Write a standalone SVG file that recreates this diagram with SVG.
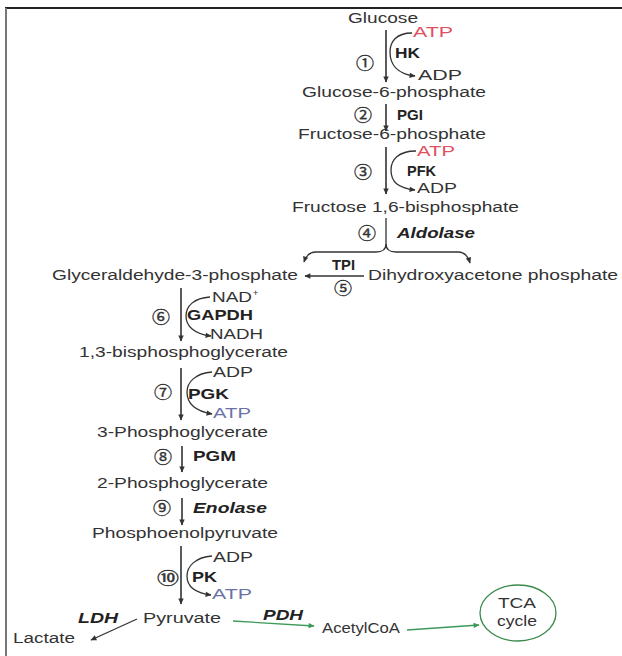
<svg xmlns="http://www.w3.org/2000/svg" width="622" height="656" viewBox="0 0 622 656">
<defs>
<style>
.t{font-family:"Liberation Sans",Arial,sans-serif;font-size:14px;fill:#333}
.b{font-weight:bold;fill:#222}
.bi{font-weight:bold;font-style:italic;fill:#222}
.red{fill:#e0505f}
.blu{fill:#6b73a6}
.num{font-family:"Noto Sans CJK JP","DejaVu Sans",sans-serif;font-size:16px;fill:#333;stroke:#333;stroke-width:0.35}
.ln{stroke:#333;stroke-width:1.3;fill:none}
.mn{stroke:#333;stroke-width:1.6;fill:none}
.gr{stroke:#3d9a5a;stroke-width:1.3;fill:none}
</style>
<marker id="ah" viewBox="0 0 10 10" refX="9" refY="5" markerWidth="7" markerHeight="6" orient="auto" markerUnits="userSpaceOnUse"><path d="M0,0.5 L10,5 L0,9.5 z" fill="#333"/></marker>
<marker id="ahg" viewBox="0 0 10 10" refX="9" refY="5" markerWidth="7" markerHeight="6" orient="auto" markerUnits="userSpaceOnUse"><path d="M0,0.5 L10,5 L0,9.5 z" fill="#3d9a5a"/></marker>
</defs>
<rect width="622" height="656" fill="#fff"/>
<g id="frame">
<path d="M5,8 H622" stroke="#222" stroke-width="2"/>
<path d="M6,8 V656" stroke="#777" stroke-width="2"/>
</g>
<g id="connectors">
<path class="mn" d="M386,30 V82" marker-end="url(#ah)"/>
<path class="ln" d="M412,33 C396,33 390,42 390,52 C390,64 397,74 415,76" marker-end="url(#ah)"/>
<path class="mn" d="M386,104 V131" marker-end="url(#ah)"/>
<path class="mn" d="M386,147 V194" marker-end="url(#ah)"/>
<path class="ln" d="M416,151 C398,151 391,160 391,170 C391,182 398,188 415,190" marker-end="url(#ah)"/>
<path class="ln" d="M386,218 V244 C386,250 382,252 376,252 L316,252 C309,252 306,256 304,262" marker-end="url(#ah)"/>
<path class="ln" d="M386,244 C386,250 390,252 396,252 L458,252 C465,252 468,256 470,263" marker-end="url(#ah)"/>
<path class="ln" d="M364,276 H305" marker-end="url(#ah)"/>
<path class="mn" d="M181,288 V341" marker-end="url(#ah)"/>
<path class="ln" d="M210,297 C194,298 186,306 186,316 C186,326 194,334 211,336" marker-end="url(#ah)"/>
<path class="mn" d="M181,368 V420" marker-end="url(#ah)"/>
<path class="ln" d="M212,372 C196,373 187,382 187,392 C187,403 195,411 212,414" marker-end="url(#ah)"/>
<path class="mn" d="M182,446 V472" marker-end="url(#ah)"/>
<path class="mn" d="M182,498 V525" marker-end="url(#ah)"/>
<path class="mn" d="M181,546 V604" marker-end="url(#ah)"/>
<path class="ln" d="M212,556 C196,557 187,566 187,576 C187,586 195,593 211,595" marker-end="url(#ah)"/>
<path class="ln" d="M137,619 L91,640" marker-end="url(#ah)"/>
<path class="gr" d="M233,621 L314,626" marker-end="url(#ahg)"/>
<path class="gr" d="M407,630 L479,625" marker-end="url(#ahg)"/>
</g>
<g id="glucose"><text class="t" x="348" y="23" textLength="70" lengthAdjust="spacingAndGlyphs">Glucose</text></g>
<g id="step1">
<text class="t red" x="413" y="37" textLength="40" lengthAdjust="spacingAndGlyphs">ATP</text>
<text class="t b" x="395" y="58" textLength="25" lengthAdjust="spacingAndGlyphs">HK</text>
<text class="num" x="356" y="69" textLength="18" lengthAdjust="spacingAndGlyphs">①</text>
<text class="t" x="418" y="80" textLength="44" lengthAdjust="spacingAndGlyphs">ADP</text>
</g>
<g id="g6p"><text class="t" x="302" y="97" textLength="184" lengthAdjust="spacingAndGlyphs">Glucose-6-phosphate</text></g>
<g id="step2">
<text class="num" x="354" y="121" textLength="18" lengthAdjust="spacingAndGlyphs">②</text>
<text class="t b" x="397" y="120" textLength="26" lengthAdjust="spacingAndGlyphs">PGI</text>
</g>
<g id="f6p"><text class="t" x="298" y="139" textLength="188" lengthAdjust="spacingAndGlyphs">Fructose-6-phosphate</text></g>
<g id="step3">
<text class="t red" x="417" y="156" textLength="38" lengthAdjust="spacingAndGlyphs">ATP</text>
<text class="t b" x="407" y="176" textLength="29" lengthAdjust="spacingAndGlyphs">PFK</text>
<text class="num" x="354" y="178" textLength="18" lengthAdjust="spacingAndGlyphs">③</text>
<text class="t" x="417" y="193" textLength="40" lengthAdjust="spacingAndGlyphs">ADP</text>
</g>
<g id="f16bp"><text class="t" x="292" y="212" textLength="227" lengthAdjust="spacingAndGlyphs">Fructose 1,6-bisphosphate</text></g>
<g id="step4">
<text class="num" x="358" y="239" textLength="18" lengthAdjust="spacingAndGlyphs">④</text>
<text class="t bi" x="397" y="238" textLength="78" lengthAdjust="spacingAndGlyphs">Aldolase</text>
</g>
<g id="g3p"><text class="t" x="52" y="280" textLength="246" lengthAdjust="spacingAndGlyphs">Glyceraldehyde-3-phosphate</text></g>
<g id="step5">
<text class="t b" x="332" y="270" textLength="23" lengthAdjust="spacingAndGlyphs">TPI</text>
<text class="num" x="334" y="294" textLength="18" lengthAdjust="spacingAndGlyphs">⑤</text>
</g>
<g id="dhap"><text class="t" x="368" y="280" textLength="250" lengthAdjust="spacingAndGlyphs">Dihydroxyacetone phosphate</text></g>
<g id="step6">
<text class="t" x="212" y="302" textLength="40" lengthAdjust="spacingAndGlyphs">NAD</text>
<text class="t" x="253" y="296" style="font-size:9px">+</text>
<text class="num" x="152" y="323" textLength="18" lengthAdjust="spacingAndGlyphs">⑥</text>
<text class="t b" x="187" y="320" textLength="66" lengthAdjust="spacingAndGlyphs">GAPDH</text>
<text class="t" x="210" y="339" textLength="53" lengthAdjust="spacingAndGlyphs">NADH</text>
</g>
<g id="bpg"><text class="t" x="79" y="357" textLength="209" lengthAdjust="spacingAndGlyphs">1,3-bisphosphoglycerate</text></g>
<g id="step7">
<text class="t" x="213" y="377" textLength="40" lengthAdjust="spacingAndGlyphs">ADP</text>
<text class="num" x="154" y="398" textLength="18" lengthAdjust="spacingAndGlyphs">⑦</text>
<text class="t b" x="188" y="399" textLength="41" lengthAdjust="spacingAndGlyphs">PGK</text>
<text class="t blu" x="213" y="418" textLength="38" lengthAdjust="spacingAndGlyphs">ATP</text>
</g>
<g id="pg3"><text class="t" x="97" y="437" textLength="171" lengthAdjust="spacingAndGlyphs">3-Phosphoglycerate</text></g>
<g id="step8">
<text class="num" x="154" y="463" textLength="18" lengthAdjust="spacingAndGlyphs">⑧</text>
<text class="t b" x="193" y="461" textLength="43" lengthAdjust="spacingAndGlyphs">PGM</text>
</g>
<g id="pg2"><text class="t" x="97" y="488" textLength="171" lengthAdjust="spacingAndGlyphs">2-Phosphoglycerate</text></g>
<g id="step9">
<text class="num" x="153" y="514" textLength="18" lengthAdjust="spacingAndGlyphs">⑨</text>
<text class="t bi" x="193" y="513" textLength="74" lengthAdjust="spacingAndGlyphs">Enolase</text>
</g>
<g id="pep"><text class="t" x="92" y="538" textLength="186" lengthAdjust="spacingAndGlyphs">Phosphoenolpyruvate</text></g>
<g id="step10">
<text class="t" x="213" y="562" textLength="40" lengthAdjust="spacingAndGlyphs">ADP</text>
<text class="num" x="157" y="584" textLength="22" lengthAdjust="spacingAndGlyphs">⑩</text>
<text class="t b" x="192" y="582" textLength="25" lengthAdjust="spacingAndGlyphs">PK</text>
<text class="t blu" x="212" y="599" textLength="40" lengthAdjust="spacingAndGlyphs">ATP</text>
</g>
<g id="pyruvate"><text class="t" x="143" y="623" textLength="78" lengthAdjust="spacingAndGlyphs">Pyruvate</text></g>
<g id="ldh"><text class="t bi" x="78" y="623" textLength="40" lengthAdjust="spacingAndGlyphs">LDH</text></g>
<g id="lactate"><text class="t" x="13" y="643" textLength="62" lengthAdjust="spacingAndGlyphs">Lactate</text></g>
<g id="pdh"><text class="t bi" x="263" y="620" textLength="40" lengthAdjust="spacingAndGlyphs">PDH</text></g>
<g id="acetylcoa"><text class="t" x="322" y="633" textLength="78" lengthAdjust="spacingAndGlyphs">AcetylCoA</text></g>
<g id="tca">
<ellipse cx="518" cy="613" rx="38" ry="28" fill="none" stroke="#3a8a4a" stroke-width="1.3"/>
<text class="t" x="498" y="608" textLength="38" lengthAdjust="spacingAndGlyphs">TCA</text>
<text class="t" x="497" y="626" textLength="40" lengthAdjust="spacingAndGlyphs">cycle</text>
</g>
</svg>
